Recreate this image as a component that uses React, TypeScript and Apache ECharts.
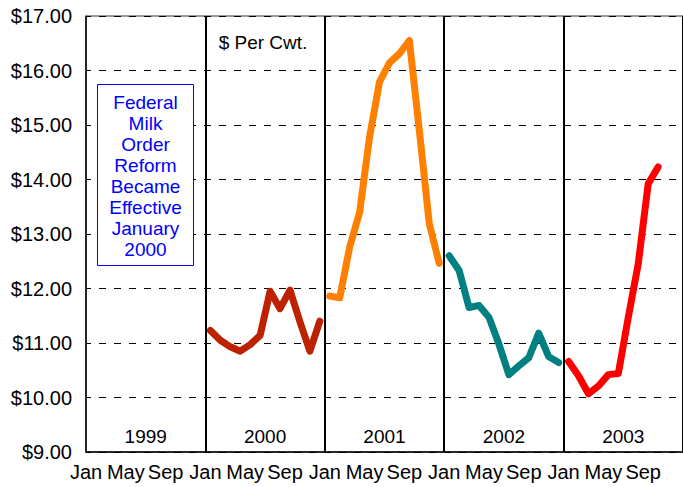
import React, { useEffect, useRef } from "react";
import * as echarts from "echarts";

const monthNames = ["Jan", "Feb", "Mar", "Apr", "May", "Jun", "Jul", "Aug", "Sep", "Oct", "Nov", "Dec"];
const years = ["1999", "2000", "2001", "2002", "2003"];
const yTicks = [9, 10, 11, 12, 13, 14, 15, 16, 17];

const price2000 = [11.23, 11.05, 10.93, 10.85, 10.97, 11.14, 11.95, 11.63, 11.97, 11.39, 10.85, 11.4];
const price2001 = [11.86, 11.83, 12.76, 13.4, 14.78, 15.79, 16.14, 16.31, 16.55, 14.9, 13.19, 12.46];
const price2002 = [12.6, 12.33, 11.65, 11.69, 11.47, 10.98, 10.42, 10.58, 10.73, 11.18, 10.75, 10.64];
const price2003 = [10.66, 10.4, 10.07, 10.21, 10.42, 10.44, 11.47, 12.45, 13.92, 14.23];

const seriesDefs = [
  { year: 1, values: price2000, color: "#BE2100" },
  { year: 2, values: price2001, color: "#FF8000" },
  { year: 3, values: price2002, color: "#008080" },
  { year: 4, values: price2003, color: "#FF0000" },
];

const noteLines = ["Federal", "Milk", "Order", "Reform", "Became", "Effective", "January", "2000"];
const unitLabel = "$ Per Cwt.";

const FONT = "'Liberation Sans', Arial, sans-serif";

export default function App() {
  const ref = useRef<HTMLDivElement>(null);
  useEffect(() => {
    document.body.style.margin = "0";
    const chart = echarts.init(ref.current!, null, { renderer: "svg" });
    const lineSeries = seriesDefs.map((s) => ({
      type: "line",
      data: s.values.map((v, m) => [s.year * 12 + m + 0.5, v]),
      showSymbol: false,
      symbol: "none",
      lineStyle: { color: s.color, width: 7, cap: "round", join: "round" },
      z: 5,
    }));
    chart.setOption({
      animation: false,
      textStyle: { fontFamily: FONT },
      grid: { left: 86, top: 16, width: 602, height: 436, show: true, borderColor: "#333", borderWidth: 1, containLabel: false },
      xAxis: [
        {
          type: "value",
          min: 0,
          max: 60,
          interval: 4,
          axisLine: { show: true, lineStyle: { color: "#000", width: 1.5 } },
          axisTick: { show: false },
          splitLine: { show: false },
          axisLabel: {
            show: true,
            showMaxLabel: false,
            fontSize: 20,
            color: "#000",
            fontFamily: FONT,
            margin: 10,
            formatter: (v: number) => monthNames[Math.round(v) % 12],
          },
        },
        {
          type: "value",
          min: 0,
          max: 60,
          interval: 12,
          position: "bottom",
          axisLine: { show: false },
          axisTick: { show: false },
          axisLabel: { show: false },
          splitLine: { show: true, lineStyle: { color: "#000", width: 2 } },
        },
      ],
      yAxis: {
        type: "value",
        min: yTicks[0],
        max: yTicks[yTicks.length - 1],
        interval: 1,
        axisLine: { show: true, lineStyle: { color: "#333", width: 1.5 } },
        axisTick: { show: false },
        axisLabel: {
          fontSize: 20,
          color: "#000",
          fontFamily: FONT,
          margin: 14,
          formatter: (v: number) => "$" + v.toFixed(2),
        },
        splitLine: { show: true, lineStyle: { color: "#000", width: 1.2, type: [7, 8], dashOffset: 2 } },
      },
      series: [
        ...lineSeries,
        {
          type: "scatter",
          symbolSize: 0,
          silent: true,
          itemStyle: { opacity: 1 },
          data: years.map((y, i) => [i * 12 + 6, 9.28, y]),
          label: {
            show: true,
            position: "inside",
            formatter: (p: any) => p.data[2],
            fontSize: 19,
            color: "#000",
            opacity: 1,
            fontFamily: FONT,
          },
          z: 6,
        },
      ],
      graphic: [
        {
          type: "text",
          x: 263,
          y: 42,
          style: { text: unitLabel, fill: "#000", font: `19px ${FONT}`, textAlign: "center", textVerticalAlign: "middle" },
          z: 10,
        },
        {
          type: "rect",
          shape: { x: 97.5, y: 84.5, width: 96, height: 181 },
          style: { fill: "#fff", stroke: "#0000FF", lineWidth: 1 },
          z: 10,
        },
        {
          type: "text",
          x: 145.5,
          y: 176,
          style: {
            text: noteLines.join("\n"),
            fill: "#0000FF",
            font: `19px ${FONT}`,
            textAlign: "center",
            textVerticalAlign: "middle",
            lineHeight: 21,
          },
          z: 11,
        },
      ],
    });
    return () => chart.dispose();
  }, []);
  return <div ref={ref} style={{ width: 683, height: 487 }} />;
}
